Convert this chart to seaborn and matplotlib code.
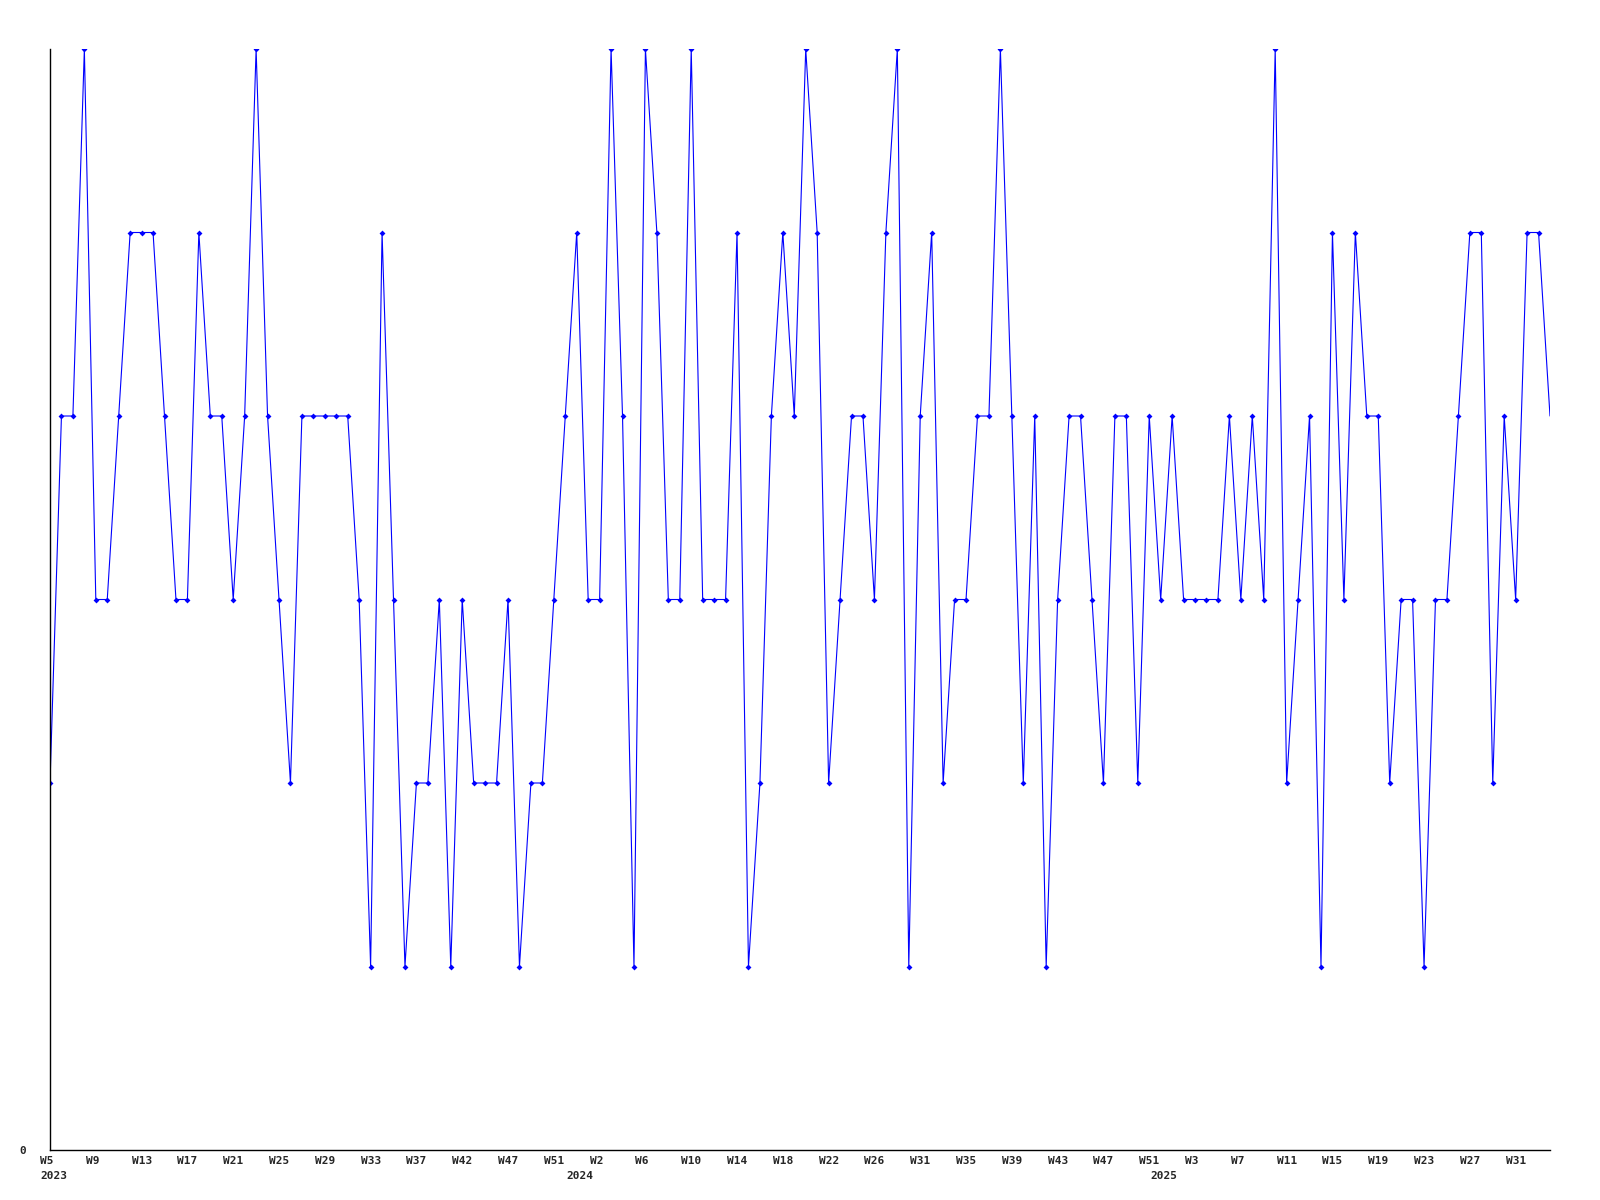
import matplotlib
matplotlib.use('Agg')
import matplotlib.pyplot as plt
import matplotlib.transforms as mtransforms
import seaborn as sns
import pandas as pd

# --- dados ---
valores = [
    2, 4, 4, 6, 3, 3, 4, 5, 5, 5, 4, 3, 3, 5, 4, 4, 3, 4, 6, 4,
    3, 2, 4, 4, 4, 4, 4, 3, 1, 5, 3, 1, 2, 2, 3, 1, 3, 2, 2, 2,
    3, 1, 2, 2, 3, 4, 5, 3, 3, 6, 4, 1, 6, 5, 3, 3, 6, 3, 3, 3,
    5, 1, 2, 4, 5, 4, 6, 5, 2, 3, 4, 4, 3, 5, 6, 1, 4, 5, 2, 3,
    3, 4, 4, 6, 4, 2, 4, 1, 3, 4, 4, 3, 2, 4, 4, 2, 4, 3, 4, 3,
    3, 3, 3, 4, 3, 4, 3, 6, 2, 3, 4, 1, 5, 3, 5, 4, 4, 2, 3, 3,
    1, 3, 3, 4, 5, 5, 2, 4, 3, 5, 5, 4,
]
semanas_2023 = list(range(5, 38)) + [38, 40, 41, 42, 43, 45, 46, 47, 48, 49, 50, 51, 52]
semanas_2024 = list(range(0, 28)) + [29, 30, 31] + list(range(32, 52))
semanas_2025 = list(range(0, 35))
anos = [2023, 2024, 2025]
rotulo_y = '0'

df = pd.DataFrame({'idx': range(len(valores)), 'valor': valores})

# rótulos do eixo x: semana a cada 4 pontos, ano no primeiro ponto de cada ano
semanas_todas = []
inicio_ano = []
for ano, semanas in zip(anos, [semanas_2023, semanas_2024, semanas_2025]):
    inicio_ano.append((len(semanas_todas), str(ano)))
    semanas_todas += [f'W{s}' for s in semanas]
posicoes = list(range(0, len(semanas_todas), 4))
textos = [semanas_todas[i] for i in posicoes]

# --- gráfico ---
sns.set_style('white')
plt.rcParams['font.family'] = ['DejaVu Sans Mono']

fig = plt.figure(figsize=(16, 12), dpi=100)
ax = fig.add_axes([50 / 1600, 50 / 1200, 1500 / 1600, 1101 / 1200])

sns.lineplot(data=df, x='idx', y='valor', color='#0000ff', linewidth=0.8,
             marker='D', markersize=3, markeredgewidth=0,
             markevery=list(range(len(valores) - 1)), ax=ax)

ax.set_xlim(0, len(valores) - 1)
ax.set_ylim(0, 6)
ax.set_xlabel('')
ax.set_ylabel('')

ax.set_xticks(posicoes, textos)
ax.set_yticks([0], [rotulo_y])
ax.tick_params(axis='both', length=0, labelsize=8)
ax.tick_params(axis='x', pad=4)
ax.tick_params(axis='y', pad=17)

desloc = mtransforms.ScaledTranslation(-10 / 100, 0, fig.dpi_scale_trans)
for lbl in ax.get_xticklabels():
    lbl.set_horizontalalignment('left')
    lbl.set_fontweight('bold')
    lbl.set_transform(lbl.get_transform() + desloc)
for lbl in ax.get_yticklabels():
    lbl.set_fontweight('bold')

# anos abaixo das semanas
for i, ano in inicio_ano:
    ax.annotate(ano, xy=(i, 0), xycoords=('data', 'axes fraction'),
                xytext=(-7.2, -19), textcoords='offset points',
                ha='left', va='center', fontsize=8, fontweight='bold')

for lado in ['top', 'right']:
    ax.spines[lado].set_visible(False)
for lado in ['left', 'bottom']:
    ax.spines[lado].set_color('black')
    ax.spines[lado].set_linewidth(1)

fig.savefig('out.png', dpi=100)
